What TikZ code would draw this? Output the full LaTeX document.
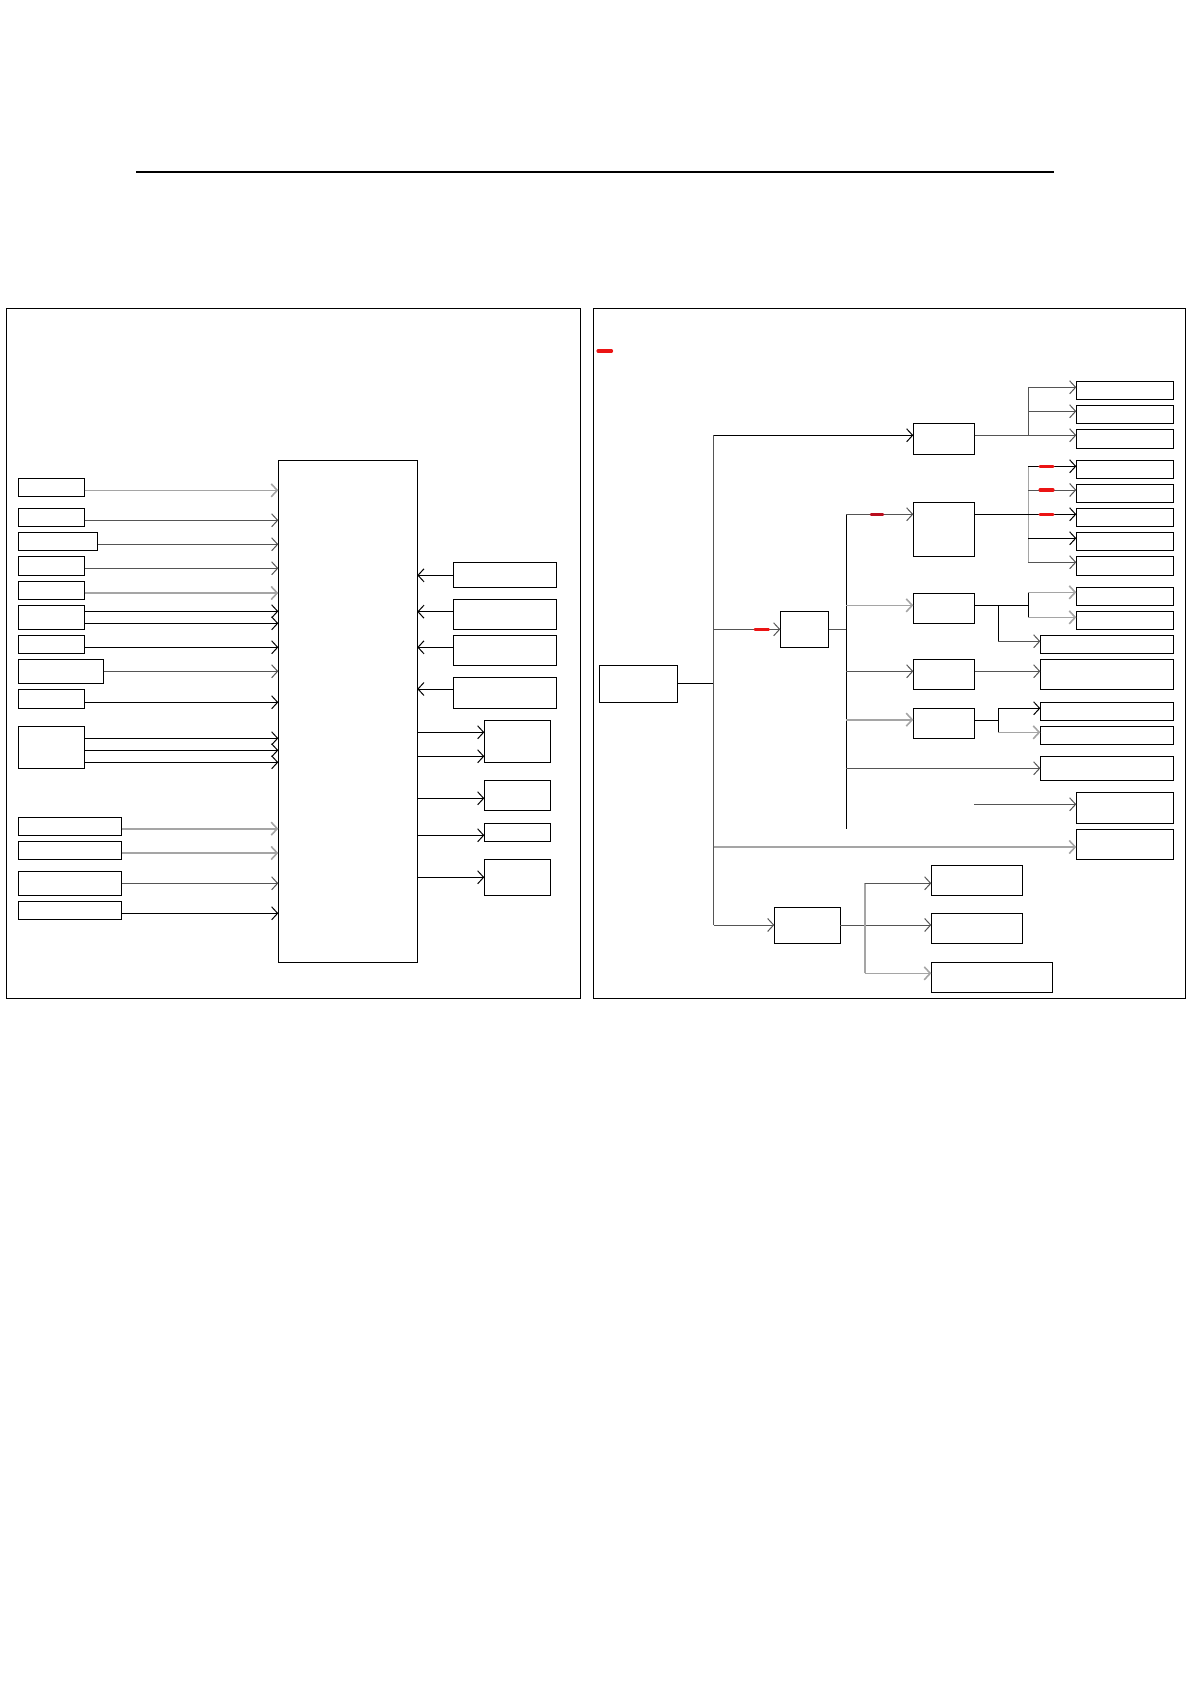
\documentclass[tikz,border=0pt]{standalone}
\usetikzlibrary{arrows.meta,calc,math}
\definecolor{qgray}{RGB}{85,85,85}
\definecolor{qlight}{RGB}{165,165,165}
\definecolor{qred}{RGB}{235,20,20}
\definecolor{qdred}{RGB}{185,14,30}
\tikzset{
 blk/.style={draw, line width=0.5pt, inner sep=0pt, outer sep=0pt},
 cn/.style={draw=black, line width=0.5pt, ->},
 cng/.style={draw=qgray, line width=0.5pt, ->},
 cnl/.style={draw=qlight, line width=0.8pt, ->},
 redbar/.style={draw=qred, line width=1.6pt, line cap=round},
 >={Straight Barb[length=3pt,width=6.5pt]}
}
% box from its corners, in page pixels
\newcommand{\blkat}[5]{\node[blk, minimum width={(#4-#2)*0.5pt}, minimum height={(#5-#3)*0.5pt}] (#1) at ({(#2+#4)/2},{(#3+#5)/2}) {};}

\begin{document}
\begin{tikzpicture}[x=0.5pt,y=-0.5pt]
\useasboundingbox (0,0) rectangle (1190,1684);
%title rule
\draw[line width=1pt] (136,172) -- (1054,172);
%panels
\draw[line width=0.5pt] (6.3,308.3) rectangle (580,998.3);
\draw[line width=0.5pt] (593.3,308.3) rectangle (1185.3,998.3);

%left panel:
\blkat{main}{278.3}{460.3}{417.3}{962.3}
%inputs
\foreach \n/\xr/\ya/\yb in {1/84.7/478.3/496.3, 2/84.7/508.3/526.3, 3/97.7/532.3/550.3,
  4/84.7/556.3/575.3, 5/84.7/581.3/599.3, 6/84.7/605.3/629.3, 7/84.7/635.3/653.3,
  8/103.7/659.3/683.3, 9/84.7/689.3/708.3, 10/84.7/726.3/768.3, 11/121.7/817.3/835.3,
  12/121.7/841.3/859.3, 13/121.7/871.3/895.3, 14/121.7/901.3/919.3}{
 \blkat{in\n}{18.3}{\ya}{\xr}{\yb}
}
\foreach \n/\y in {6/611.3, 6/623.3, 7/647.3, 9/702.3, 10/738.3, 10/750.3, 10/762.3, 14/913.3}{
 \draw[cn] (in\n.east |- 0,\y) -- (main.west |- 0,\y);
}
\foreach \n/\y in {2/520.3, 3/544.3, 4/568.3, 8/671.3, 13/883.3}{
 \draw[cng] (in\n.east |- 0,\y) -- (main.west |- 0,\y);
}
\foreach \n/\y in {1/490.3, 5/593, 11/828.7, 12/853}{
 \draw[cnl] (in\n.east |- 0,\y) -- (main.west |- 0,\y);
}
%feedback
\foreach \n/\ya/\yb/\y in {1/562.3/587.3/575.3, 2/599.3/629.3/611.7, 3/635.3/665.3/647.3, 4/677.3/708.3/689}{
 \blkat{fb\n}{453.3}{\ya}{556.3}{\yb}
 \draw[cn] (fb\n.west |- 0,\y) -- (main.east |- 0,\y);
}
%outputs
\foreach \n/\ya/\yb in {1/720.3/762.3, 2/780.3/810.3, 3/823.3/841.3, 4/859.3/895.3}{
 \blkat{out\n}{484.3}{\ya}{550.3}{\yb}
}
\foreach \n/\y in {1/732.3, 1/756.3, 2/798.3, 3/835.3, 4/877.3}{
 \draw[cn] (main.east |- 0,\y) -- (out\n.west |- 0,\y);
}

%right panel:
\draw[redbar] (598,351) -- (611.5,351);
\blkat{root}{599.3}{665.3}{677.3}{702.3}
\blkat{ctl}{780.3}{611.3}{828.7}{647.3}
\blkat{bA}{913.3}{423.3}{974.7}{454.3}
\blkat{bC}{913.3}{502.3}{974.7}{556.3}
\blkat{bD}{913.3}{593.3}{974.7}{623.3}
\blkat{bE}{913.3}{659.3}{974.7}{689.3}
\blkat{bF}{913.3}{708.3}{974.7}{738.3}
\blkat{bG}{774.3}{907.3}{840.3}{943.3}
\foreach \n/\ya/\yb in {1/381.3/399.3, 2/405.3/423.3, 3/429.3/448.3, 4/460.3/478.3,
  5/484.3/502.3, 6/508.3/526.3, 7/532.3/550.3, 8/556.3/575.3, 9/587.3/605.3,
  10/611.3/629.3, 16/792.3/823.3, 17/829.3/859.3}{
 \blkat{r\n}{1076.3}{\ya}{1173.3}{\yb}
}
\foreach \n/\ya/\yb in {11/635.3/653.3, 12/659.3/689.3, 13/702.3/720.3, 14/726.3/744.3, 15/756.3/780.3}{
 \blkat{r\n}{1040.3}{\ya}{1173.3}{\yb}
}
\blkat{r18}{931.3}{865.3}{1022.7}{895.3}
\blkat{r19}{931.3}{913.3}{1022.7}{943.3}
\blkat{r20}{931.3}{962.3}{1052.3}{992.3}

%main bus
\coordinate (busT) at (713.7,435.3);
\coordinate (busB) at (713.7,925);
\draw[cn,-] (root) -- (root -| busT);
\draw[cng,-] (busT) -- (busB);
\draw[cn] (busT) -- (busT -| bA.west);
\draw[cng] (busT |- ctl) -- (ctl.west);
\draw[redbar] (755,629.3) -- (768.5,629.3);
\draw[cnl] (busT |- 0,847) -- (r17.west |- 0,847);
\draw[cng] (busB) -- (bG.west |- busB);

%second bus
\coordinate (b2T) at (846.3,514.3);
\coordinate (b2B) at (846.3,828.7);
\draw[cng,-] (ctl.east) -- (ctl.east -| b2T);
\draw[cn,-] (b2T) -- (b2B);
\draw[cng] (b2T) -- (b2T -| bC.west);
\draw[redbar, draw=qdred, line width=1.3pt] (871,514.3) -- (883,514.3);
\draw[cnl] (b2T |- 0,605.3) -- (bD.west |- 0,605.3);
\draw[cng] (b2T |- 0,671.3) -- (bE.west |- 0,671.3);
\draw[cnl] (b2T |- 0,719.7) -- (bF.west |- 0,719.7);
\draw[cng] (b2T |- 0,768.3) -- (r15.west |- 0,768.3);

%A fan
\coordinate (jA) at (1028.3,435.3);
\draw[cng] (bA.east |- jA) -- (r3.west |- jA);
\draw[cng,-] (jA) -- (jA |- 0,387.3);
\draw[cng] (jA |- 0,387.3) -- (r1.west |- 0,387.3);
\draw[cng] (jA |- 0,411.3) -- (r2.west |- 0,411.3);

%C fan
\coordinate (jC) at (1028.3,514.3);
\draw[cnl,-] (jC |- 0,466.3) -- (jC |- 0,562.3);
\draw[cn] (bC.east |- jC) -- (r6.west |- jC);
\draw[cn] (jC |- 0,466.3) -- (r4.west |- 0,466.3);
\draw[cng] (jC |- 0,490) -- (r5.west |- 0,490);
\draw[cn] (jC |- 0,538.3) -- (r7.west |- 0,538.3);
\draw[cng] (jC |- 0,562.3) -- (r8.west |- 0,562.3);
\foreach \y in {466.3, 490, 514.3}{
 \draw[redbar] (1040,\y) -- (1053,\y);
}

%D fan
\coordinate (jD) at (998.3,605.3);
\coordinate (kD) at (1028.3,605.3);
\draw[cn,-] (bD.east |- jD) -- (kD);
\draw[cn,-] (jD) -- (jD |- 0,641.3);
\draw[cng] (jD |- 0,641.3) -- (r11.west |- 0,641.3);
\draw[cn,-] (kD |- 0,592.3) -- (kD |- 0,617.3);
\draw[cnl] (kD |- 0,592.3) -- (r9.west |- 0,592.3);
\draw[cnl] (kD |- 0,617.3) -- (r10.west |- 0,617.3);

%E, F
\draw[cng] (bE.east |- 0,671.3) -- (r12.west |- 0,671.3);
\coordinate (jF) at (998.3,720);
\draw[cn,-] (bF.east |- jF) -- (jF);
\draw[cn,-] (jF |- 0,708.3) -- (jF |- 0,732.3);
\draw[cn] (jF |- 0,708.3) -- (r13.west |- 0,708.3);
\draw[cnl] (jF |- 0,732.3) -- (r14.west |- 0,732.3);

%loose feed
\coordinate (feed) at (974,804.3);
\draw[cng] (feed) -- (r16.west |- feed);

%G fan
\coordinate (jG) at (864.7,925);
\draw[cng] (bG.east |- jG) -- (r19.west |- jG);
\draw[cnl,-] (jG |- 0,883.3) -- (jG |- 0,973.3);
\draw[cng] (jG |- 0,883.3) -- (r18.west |- 0,883.3);
\draw[cnl] (jG |- 0,973.3) -- (r20.west |- 0,973.3);
\end{tikzpicture}
\end{document}
